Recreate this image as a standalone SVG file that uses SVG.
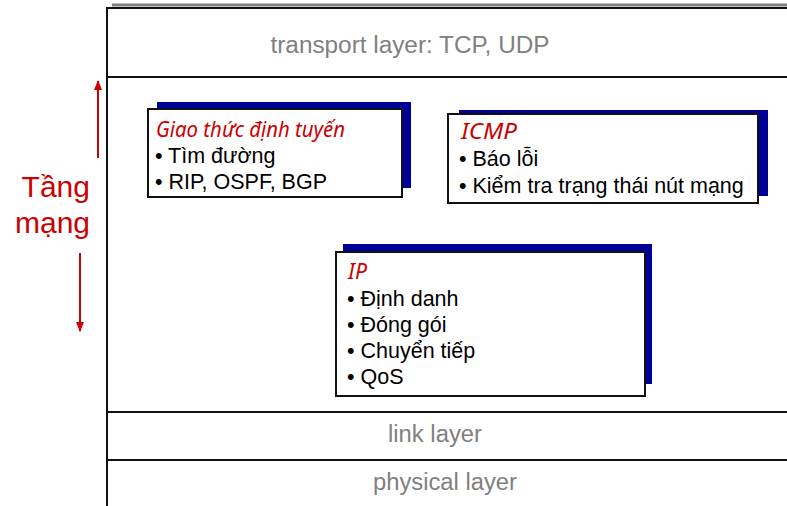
<svg xmlns="http://www.w3.org/2000/svg" width="787" height="506" viewBox="0 0 787 506">
<style>
.layer{font-family:"Liberation Sans",Arial,sans-serif;font-size:23px;fill:#808080;text-anchor:middle}
.frame{stroke:#111;stroke-width:2;fill:none}
.box{fill:#fff;stroke:#111;stroke-width:2}
.shadow{fill:#000099}
.title{font-family:"Noto Sans","Open Sans",sans-serif;font-style:italic;font-size:22px;fill:#cc0000}
.item{font-family:"Liberation Sans",Arial,sans-serif;font-size:21.5px;fill:#000}
.side{font-family:"Liberation Sans",Arial,sans-serif;font-size:30px;fill:#cc0000;text-anchor:end}
.arr{stroke:#cc0000;stroke-width:2;fill:none}
</style>
<defs>
<marker id="ah" viewBox="0 0 10 10" refX="9" refY="5" markerWidth="5" markerHeight="5" orient="auto" markerUnits="strokeWidth">
<path d="M0,1 L10,5 L0,9 z" fill="#cc0000"/>
</marker>
</defs>
<rect width="787" height="506" fill="#fff"/>
<g id="frame">
<line x1="112" y1="5" x2="787" y2="5" stroke="#808080" stroke-width="3"/>
<line x1="107" y1="8" x2="787" y2="8" class="frame"/>
<line x1="107" y1="7" x2="107" y2="506" class="frame"/>
<line x1="107" y1="77" x2="787" y2="77" class="frame"/>
<line x1="107" y1="412" x2="787" y2="412" class="frame"/>
<line x1="107" y1="460" x2="787" y2="460" class="frame"/>
</g>
<g id="transport"><text class="layer" x="410" y="53" textLength="279" lengthAdjust="spacingAndGlyphs">transport layer: TCP, UDP</text></g>
<g id="link"><text class="layer" x="435" y="442" textLength="94" lengthAdjust="spacingAndGlyphs">link layer</text></g>
<g id="physical"><text class="layer" x="445" y="490" textLength="144" lengthAdjust="spacingAndGlyphs">physical layer</text></g>
<g id="network-label">
<text class="side" x="90" y="197">Tầng</text>
<text class="side" x="90" y="233">mạng</text>
</g>
<g id="connectors">
<line class="arr" x1="98" y1="158" x2="98" y2="81" marker-end="url(#ah)"/>
<line class="arr" x1="80" y1="253" x2="80" y2="331" marker-end="url(#ah)"/>
</g>
<g id="routing">
<rect class="shadow" x="157" y="102" width="254" height="86"/>
<rect class="box" x="148" y="109" width="254" height="88"/>
<text class="title" x="156" y="137" textLength="189" lengthAdjust="spacingAndGlyphs">Giao thức định tuyến</text>
<text class="item" x="155" y="163">• Tìm đường</text>
<text class="item" x="155" y="189">• RIP, OSPF, BGP</text>
</g>
<g id="icmp">
<rect class="shadow" x="459" y="110" width="309" height="86"/>
<rect class="box" x="448" y="114" width="310" height="89"/>
<text class="title" x="461" y="139" textLength="56" lengthAdjust="spacingAndGlyphs">ICMP</text>
<text class="item" x="459" y="166">• Báo lỗi</text>
<text class="item" x="459" y="193">• Kiểm tra trạng thái nút mạng</text>
</g>
<g id="ip">
<rect class="shadow" x="343" y="244" width="309" height="140"/>
<rect class="box" x="336" y="252" width="309" height="144"/>
<text class="title" x="348" y="279" textLength="19" lengthAdjust="spacingAndGlyphs">IP</text>
<text class="item" x="347" y="306">• Định danh</text>
<text class="item" x="347" y="332">• Đóng gói</text>
<text class="item" x="347" y="358">• Chuyển tiếp</text>
<text class="item" x="347" y="384">• QoS</text>
</g>
</svg>
